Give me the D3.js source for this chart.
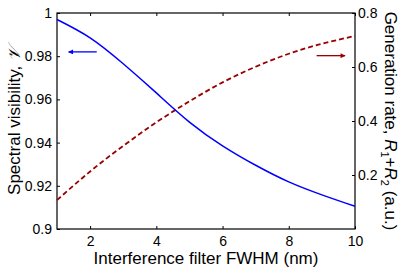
<!DOCTYPE html>
<html>
<head>
<meta charset="utf-8">
<script src="https://cdn.jsdelivr.net/npm/d3@7"></script>
<style>
  body { margin: 0; background: #fff; }
  text { font-family: "Liberation Sans", Arial, sans-serif; fill: #000; }
</style>
</head>
<body>
<div id="chart"></div>
<script>
// filter FWHM (nm)
const fwhm = [1, 2, 3, 4, 5, 6, 7, 8, 9, 10];
// spectral visibility (left axis)
const visibility = [0.997, 0.9885, 0.9765, 0.963, 0.9495, 0.9385, 0.9295, 0.9218, 0.9158, 0.9105];
// generation rate R1+R2 (right axis)
const genRate = [0.107, 0.213, 0.308, 0.395, 0.473, 0.543, 0.601, 0.649, 0.686, 0.715];

const xTicks = [2, 4, 6, 8, 10];
const yLeftTicks = [0.9, 0.92, 0.94, 0.96, 0.98, 1];
const yRightTicks = [0.2, 0.4, 0.6, 0.8];

// arrows pointing at each curve's axis: [x start, x end, y]
const arrowLeft = [2.2, 1.35, 0.982];
const arrowRight = [8.84, 9.7, 0.642];

const width = 409;
const height = 269;
const margin = {top: 13, right: 54, bottom: 40, left: 57};

const svg = d3.select('#chart')
    .append('svg')
        .attr('width', width)
        .attr('height', height);

const x = d3.scaleLinear()
    .domain([1, 10])
    .range([margin.left, width - margin.right]);
const yl = d3.scaleLinear()
    .domain([0.9, 1])
    .range([height - margin.bottom, margin.top]);
const yr = d3.scaleLinear()
    .domain([0, 0.8])
    .range([height - margin.bottom, margin.top]);

const blue = '#0000ff';
const red = '#990000';

const defs = svg.append('defs');
const marker = (id, col) => defs.append('marker')
    .attr('id', id)
    .attr('viewBox', '0 0 10 10')
    .attr('refX', 9).attr('refY', 5)
    .attr('markerWidth', 7).attr('markerHeight', 5)
    .attr('markerUnits', 'userSpaceOnUse')
    .attr('orient', 'auto')
    .append('path')
        .attr('d', 'M0,0 L10,5 L0,10 Z')
        .attr('fill', col);
marker('ab', blue);
marker('ar', red);

const tickStyle = g => {
    g.select('.domain').remove();
    g.selectAll('.tick line').attr('stroke', '#000');
    g.selectAll('.tick text')
        .style('font-size', '14px')
        .style('font-family', '"Liberation Sans", Arial, sans-serif');
};

// bottom
svg.append('g')
    .attr('transform', `translate(0,${height - margin.bottom})`)
    .call(d3.axisBottom(x).tickValues(xTicks).tickSize(-3).tickPadding(7).tickFormat(d3.format('d')))
    .call(tickStyle);
// top ticks
svg.append('g')
    .attr('transform', `translate(0,${margin.top})`)
    .call(d3.axisTop(x).tickValues(xTicks).tickSize(-3).tickFormat(''))
    .call(tickStyle);
// left
svg.append('g')
    .attr('transform', `translate(${margin.left},0)`)
    .call(d3.axisLeft(yl).tickValues(yLeftTicks).tickSize(-3).tickPadding(5).tickFormat(d => d3.format('')(+d.toFixed(2))))
    .call(tickStyle);
// right
svg.append('g')
    .attr('transform', `translate(${width - margin.right},0)`)
    .call(d3.axisRight(yr).tickValues(yRightTicks).tickSize(-3).tickPadding(3).tickFormat(d3.format('.1f')))
    .call(tickStyle);

// frame
svg.append('rect')
    .attr('x', margin.left)
    .attr('y', margin.top)
    .attr('width', width - margin.left - margin.right)
    .attr('height', height - margin.top - margin.bottom)
    .attr('fill', 'none')
    .attr('stroke', '#000')
    .attr('stroke-width', 1.2);

const lineL = d3.line()
    .curve(d3.curveNatural)
    .x((d, i) => x(fwhm[i]))
    .y(d => yl(d));
const lineR = d3.line()
    .curve(d3.curveNatural)
    .x((d, i) => x(fwhm[i]))
    .y(d => yr(d));

svg.append('path')
    .attr('d', lineR(genRate))
    .attr('fill', 'none')
    .attr('stroke', red)
    .attr('stroke-width', 1.8)
    .attr('stroke-dasharray', '5,3');

svg.append('path')
    .attr('d', lineL(visibility))
    .attr('fill', 'none')
    .attr('stroke', blue)
    .attr('stroke-width', 1.5);

svg.append('line')
    .attr('x1', x(arrowLeft[0])).attr('x2', x(arrowLeft[1]))
    .attr('y1', yl(arrowLeft[2])).attr('y2', yl(arrowLeft[2]))
    .attr('stroke', blue).attr('stroke-width', 1.3)
    .attr('marker-end', 'url(#ab)');
svg.append('line')
    .attr('x1', x(arrowRight[0])).attr('x2', x(arrowRight[1]))
    .attr('y1', yr(arrowRight[2])).attr('y2', yr(arrowRight[2]))
    .attr('stroke', red).attr('stroke-width', 1.3)
    .attr('marker-end', 'url(#ar)');

// axis titles
svg.append('text')
    .attr('x', (margin.left + width - margin.right) / 2)
    .attr('y', 264)
    .attr('text-anchor', 'middle')
    .style('font-size', '17px')
    .text('Interference filter FWHM (nm)');

const ylab = svg.append('text')
    .attr('transform', `translate(20,${(margin.top + height - margin.bottom) / 2}) rotate(-90)`)
    .attr('text-anchor', 'middle')
    .style('font-size', '17px');
ylab.append('tspan').text('Spectral visibility, ');
ylab.append('tspan').style('font-family', '"DejaVu Serif", serif').style('font-style', 'italic').text('𝒱');

const rlab = svg.append('text')
    .attr('transform', `translate(385,${(margin.top + height - margin.bottom) / 2}) rotate(90)`)
    .attr('text-anchor', 'middle')
    .style('font-size', '17px');
rlab.append('tspan').text('Generation rate, ');
rlab.append('tspan').style('font-style', 'italic').text('R');
rlab.append('tspan').attr('dy', 4).style('font-size', '11px').text('1');
rlab.append('tspan').attr('dy', -4).text('+');
rlab.append('tspan').style('font-style', 'italic').text('R');
rlab.append('tspan').attr('dy', 4).style('font-size', '11px').text('2');
rlab.append('tspan').attr('dy', -4).text(' (a.u.)');
</script>
</body>
</html>
